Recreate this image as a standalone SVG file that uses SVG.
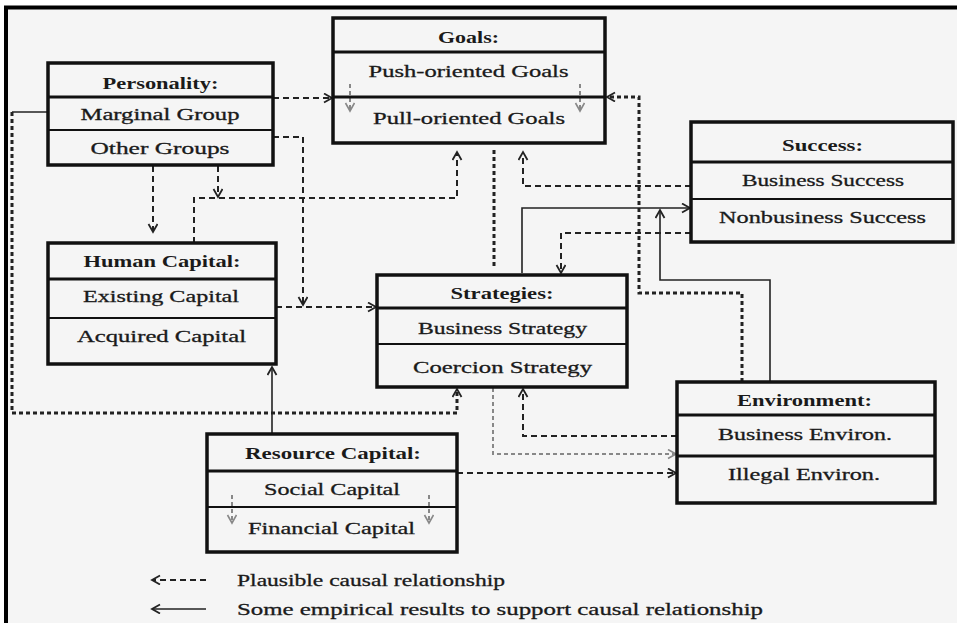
<svg xmlns="http://www.w3.org/2000/svg" width="957" height="623" viewBox="0 0 957 623">
<style>
.box{fill:none;stroke:#111;stroke-width:3.5}
.hl{stroke:#111;stroke-width:3}
.sl{stroke:#111;stroke-width:2}
.h{font-family:"Liberation Serif",serif;font-weight:bold;font-size:17px;fill:#1a1a1a;text-anchor:middle}
.t{font-family:"Liberation Serif",serif;font-size:17px;fill:#1a1a1a;text-anchor:middle;stroke:#1a1a1a;stroke-width:0.3}
.lg{font-family:"Liberation Serif",serif;font-size:17px;fill:#1a1a1a;stroke:#1a1a1a;stroke-width:0.3}
.da{fill:none;stroke:#222;stroke-width:2;stroke-dasharray:6 4;marker-end:url(#ah)}
.dn{fill:none;stroke:#222;stroke-width:2;stroke-dasharray:6 4}
.dt{fill:none;stroke:#222;stroke-width:3;stroke-dasharray:4 3}
.dta{fill:none;stroke:#222;stroke-width:3;stroke-dasharray:4 3;marker-end:url(#ah)}
.so{fill:none;stroke:#222;stroke-width:1.6}
.soa{fill:none;stroke:#222;stroke-width:1.6;marker-end:url(#ah)}
.gr{fill:none;stroke:#888;stroke-width:2;stroke-dasharray:4 3;marker-end:url(#ahg)}
</style>
<defs>
<marker id="ah" markerUnits="userSpaceOnUse" markerWidth="12" markerHeight="12" refX="9" refY="5" orient="auto">
<path d="M1,0.5 L9,5 L1,9.5" fill="none" stroke="#222" stroke-width="1.8"/>
</marker>
<marker id="ahg" markerUnits="userSpaceOnUse" markerWidth="12" markerHeight="12" refX="9" refY="5" orient="auto">
<path d="M1,0.5 L9,5 L1,9.5" fill="none" stroke="#888" stroke-width="1.6"/>
</marker>
</defs>
<rect x="0" y="0" width="957" height="623" fill="#ffffff"/>
<rect x="6" y="7" width="951" height="616" fill="#f5f5f5"/>
<path d="M6,623 V7.5 H957" fill="none" stroke="#000" stroke-width="4"/>

<g id="connectors">
<path class="da" d="M273,98 H332"/>
<path class="da" d="M273,137 H303 V305"/>
<path class="da" d="M153,166 V232"/>
<path class="da" d="M218,166 V197"/>
<path class="so" d="M48,112 H12"/>
<path class="dta" d="M12,112 V413 H457 V389"/>
<path class="da" d="M194,243 V198 H457 V152"/>
<path class="da" d="M276,307 H376"/>
<path class="soa" d="M272,434 V367"/>
<path class="da" d="M457,473 H676"/>
<path class="dt" d="M494,150 V268"/>
<path class="soa" d="M522,273 V208 H690"/>
<path class="soa" d="M770,382 V280 H660 V210"/>
<path class="dta" d="M742,382 V293 H639 V97 H607"/>
<path class="da" d="M691,186 H523 V152"/>
<path class="da" d="M691,233 H561 V273"/>
<path class="gr" d="M493,388 V454 H676"/>
<path class="da" d="M677,436 H523 V389"/>
<path class="gr" d="M350,84 V111"/>
<path class="gr" d="M580,84 V111"/>
<path class="gr" d="M232,495 V523"/>
<path class="gr" d="M429,495 V523"/>
</g>

<g id="goals">
<rect class="box" x="333" y="18" width="272" height="125"/>
<line class="hl" x1="333" y1="52" x2="605" y2="52"/>
<line class="hl" x1="333" y1="97" x2="605" y2="97"/>
<text class="h" x="468.5" y="43" textLength="61" lengthAdjust="spacingAndGlyphs">Goals:</text>
<text class="t" x="468.5" y="77" textLength="200" lengthAdjust="spacingAndGlyphs">Push-oriented Goals</text>
<text class="t" x="469" y="124" textLength="192" lengthAdjust="spacingAndGlyphs">Pull-oriented Goals</text>
</g>

<g id="personality">
<rect class="box" x="48" y="63" width="225" height="102"/>
<line class="hl" x1="48" y1="97" x2="273" y2="97"/>
<line class="sl" x1="48" y1="130" x2="273" y2="130"/>
<text class="h" x="160.5" y="89" textLength="116" lengthAdjust="spacingAndGlyphs">Personality:</text>
<text class="t" x="160" y="120" textLength="159" lengthAdjust="spacingAndGlyphs">Marginal Group</text>
<text class="t" x="160" y="154" textLength="139" lengthAdjust="spacingAndGlyphs">Other Groups</text>
</g>

<g id="human-capital">
<rect class="box" x="48" y="243" width="228" height="121"/>
<line class="hl" x1="48" y1="279" x2="276" y2="279"/>
<line class="sl" x1="48" y1="318" x2="276" y2="318"/>
<text class="h" x="162" y="267" textLength="157" lengthAdjust="spacingAndGlyphs">Human Capital:</text>
<text class="t" x="161" y="302" textLength="156" lengthAdjust="spacingAndGlyphs">Existing Capital</text>
<text class="t" x="161.5" y="342" textLength="169" lengthAdjust="spacingAndGlyphs">Acquired Capital</text>
</g>

<g id="strategies">
<rect class="box" x="377" y="275" width="250" height="112"/>
<line class="hl" x1="377" y1="308" x2="627" y2="308"/>
<line class="sl" x1="377" y1="344" x2="627" y2="344"/>
<text class="h" x="502" y="299" textLength="103" lengthAdjust="spacingAndGlyphs">Strategies:</text>
<text class="t" x="502.5" y="334" textLength="169" lengthAdjust="spacingAndGlyphs">Business Strategy</text>
<text class="t" x="502.5" y="373" textLength="179" lengthAdjust="spacingAndGlyphs">Coercion Strategy</text>
</g>

<g id="success">
<rect class="box" x="691" y="122" width="262" height="120"/>
<line class="hl" x1="691" y1="162" x2="953" y2="162"/>
<line class="sl" x1="691" y1="199" x2="953" y2="199"/>
<text class="h" x="822.5" y="151" textLength="81" lengthAdjust="spacingAndGlyphs">Success:</text>
<text class="t" x="823" y="186" textLength="162" lengthAdjust="spacingAndGlyphs">Business Success</text>
<text class="t" x="822.5" y="223" textLength="207" lengthAdjust="spacingAndGlyphs">Nonbusiness Success</text>
</g>

<g id="environment">
<rect class="box" x="677" y="382" width="258" height="121"/>
<line class="hl" x1="677" y1="415" x2="935" y2="415"/>
<line class="hl" x1="677" y1="456" x2="935" y2="456"/>
<text class="h" x="804.5" y="406" textLength="135" lengthAdjust="spacingAndGlyphs">Environment:</text>
<text class="t" x="805" y="440" textLength="174" lengthAdjust="spacingAndGlyphs">Business Environ.</text>
<text class="t" x="804" y="480" textLength="152" lengthAdjust="spacingAndGlyphs">Illegal Environ.</text>
</g>

<g id="resource-capital">
<rect class="box" x="207" y="434" width="250" height="118"/>
<line class="hl" x1="207" y1="471" x2="457" y2="471"/>
<line class="sl" x1="207" y1="507" x2="457" y2="507"/>
<text class="h" x="333" y="459" textLength="176" lengthAdjust="spacingAndGlyphs">Resource Capital:</text>
<text class="t" x="332" y="495" textLength="136" lengthAdjust="spacingAndGlyphs">Social Capital</text>
<text class="t" x="331.5" y="534" textLength="167" lengthAdjust="spacingAndGlyphs">Financial Capital</text>
</g>

<g id="legend">
<path class="da" d="M206,580 H152"/>
<path class="soa" d="M206,609 H152"/>
<text class="lg" x="237" y="586" textLength="268" lengthAdjust="spacingAndGlyphs">Plausible causal relationship</text>
<text class="lg" x="237" y="615" textLength="526" lengthAdjust="spacingAndGlyphs">Some empirical results to support causal relationship</text>
</g>
</svg>
